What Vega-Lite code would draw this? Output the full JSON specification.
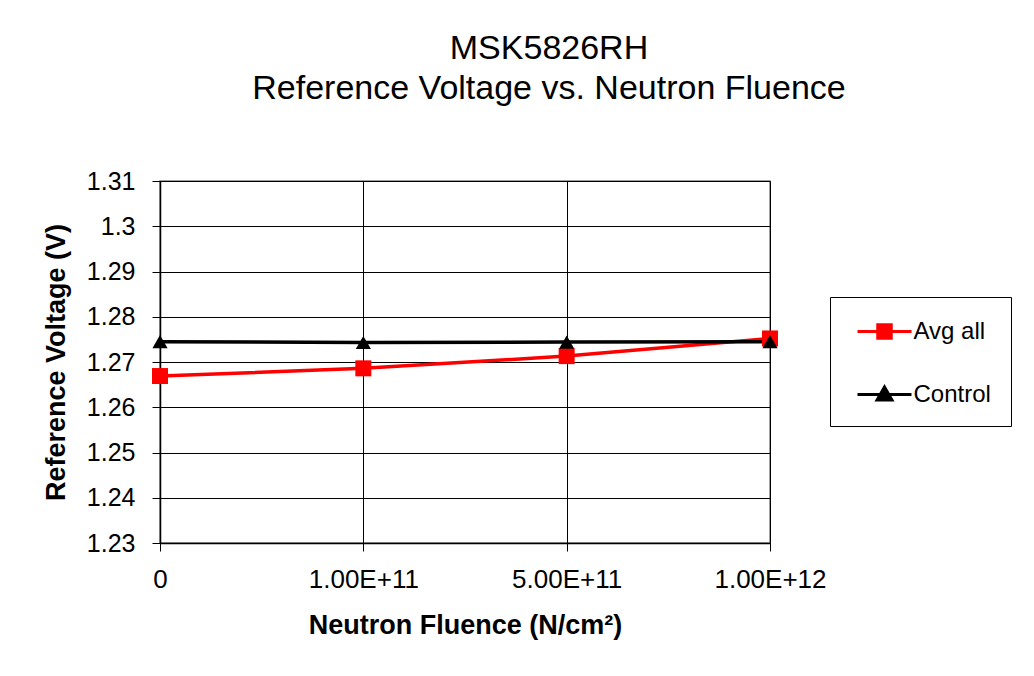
{
  "$schema": "https://vega.github.io/schema/vega-lite/v6.json",
  "width": 610,
  "height": 362,
  "autosize": {"type": "none"},
  "padding": {"left": 160, "top": 181, "right": 264, "bottom": 133},
  "background": "white",
  "title": {
    "text": ["MSK5826RH", "Reference Voltage vs. Neutron Fluence"],
    "font": "Liberation Sans",
    "fontSize": 34,
    "fontWeight": "normal",
    "color": "black",
    "anchor": "middle",
    "dx": 84,
    "lineHeight": 40,
    "offset": 63
  },
  "config": {
    "font": "Liberation Sans",
    "view": {"stroke": "#808080", "strokeWidth": 1.5}
  },
  "data": {
    "values": [
      {"fluence": "0", "series": "Avg all", "v": 1.2669},
      {"fluence": "1.00E+11", "series": "Avg all", "v": 1.2686},
      {"fluence": "5.00E+11", "series": "Avg all", "v": 1.2713},
      {"fluence": "1.00E+12", "series": "Avg all", "v": 1.2752},
      {"fluence": "0", "series": "Control", "v": 1.2745},
      {"fluence": "1.00E+11", "series": "Control", "v": 1.2743},
      {"fluence": "5.00E+11", "series": "Control", "v": 1.2744},
      {"fluence": "1.00E+12", "series": "Control", "v": 1.2745}
    ]
  },
  "encoding": {
    "x": {
      "field": "fluence",
      "type": "ordinal",
      "sort": ["0", "1.00E+11", "5.00E+11", "1.00E+12"],
      "scale": {"type": "point", "padding": 0},
      "axis": {
        "title": "Neutron Fluence (N/cm²)",
        "titleFont": "Liberation Sans",
        "titleFontSize": 27,
        "titleFontWeight": "bold",
        "titleColor": "black",
        "titlePadding": 20,
        "labelAngle": 0,
        "labelFontSize": 26,
        "labelColor": "black",
        "labelPadding": 15,
        "tickSize": 8,
        "tickColor": "black",
        "domainColor": "black",
        "domainWidth": 1.5,
        "grid": true,
        "gridColor": "black",
        "gridWidth": 1
      }
    },
    "y": {
      "field": "v",
      "type": "quantitative",
      "scale": {"domain": [1.23, 1.31], "zero": false, "nice": false},
      "axis": {
        "title": "Reference Voltage (V)",
        "titleFont": "Liberation Sans",
        "titleFontSize": 27,
        "titleFontWeight": "bold",
        "titleColor": "black",
        "titlePadding": 16,
        "values": [1.23, 1.24, 1.25, 1.26, 1.27, 1.28, 1.29, 1.3, 1.31],
        "labelExpr": "format(datum.value, '.2~f')",
        "labelFontSize": 25,
        "labelColor": "black",
        "labelPadding": 17,
        "tickSize": 8,
        "tickColor": "black",
        "domainColor": "black",
        "domainWidth": 1.5,
        "grid": true,
        "gridColor": "black",
        "gridWidth": 1
      }
    },
    "color": {
      "field": "series",
      "type": "nominal",
      "scale": {"domain": ["Avg all", "Control"], "range": ["#FF0000", "#000000"]},
      "legend": {
        "title": null,
        "orient": "none",
        "legendX": 670,
        "legendY": 116,
        "padding": 19.5,
        "strokeColor": "black",
        "fillColor": "white",
        "labelFont": "Liberation Sans",
        "labelFontSize": 24,
        "labelColor": "black",
        "labelExpr": "datum.label + '\u00a0\u00a0\u00a0'",
        "symbolSize": 729,
        "symbolOffset": 20,
        "labelOffset": 14,
        "rowPadding": 35,
        "symbolStrokeWidth": 3,
        "encode": {
          "symbols": {
            "update": {
              "shape": [
                {"test": "datum.value === 'Avg all'", "value": "M-2,0H2M-0.5,-0.5H0.5V0.5H-0.5Z"},
                {"value": "M-2,0H2M0,-0.55L0.55,0.4H-0.55Z"}
              ],
              "fill": [
                {"test": "datum.value === 'Avg all'", "value": "#FF0000"},
                {"value": "#000000"}
              ],
              "stroke": [
                {"test": "datum.value === 'Avg all'", "value": "#FF0000"},
                {"value": "#000000"}
              ],
              "fillOpacity": {"value": 1},
              "strokeWidth": {"value": 3}
            }
          }
        }
      }
    }
  },
  "layer": [
    {
      "mark": {"type": "line", "strokeWidth": 3.5}
    },
    {
      "transform": [{"filter": "datum.series === 'Avg all'"}],
      "mark": {"type": "square", "filled": true, "opacity": 1, "size": 256}
    },
    {
      "transform": [{"filter": "datum.series === 'Control'"}],
      "mark": {"type": "point", "shape": "triangle-up", "filled": true, "opacity": 1, "size": 230}
    }
  ]
}
